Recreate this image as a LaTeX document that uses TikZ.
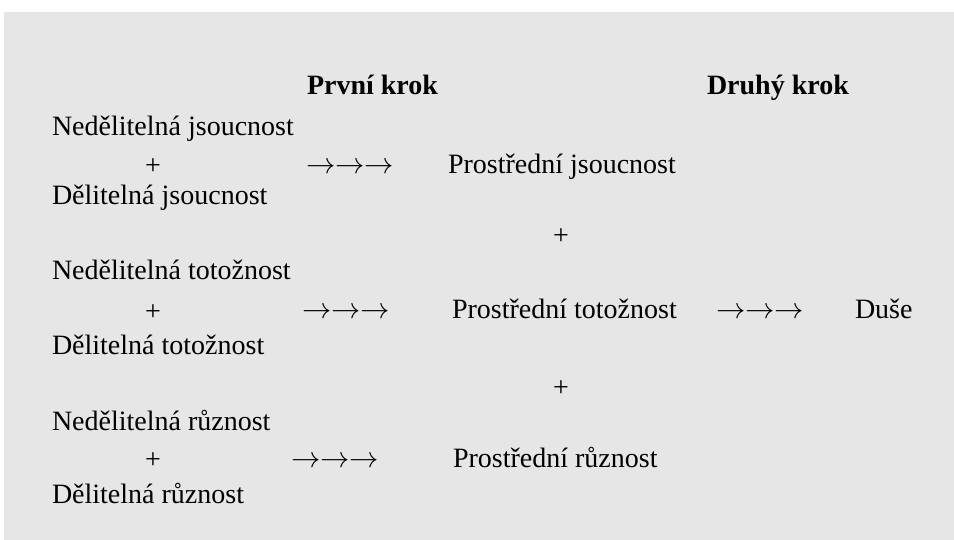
\documentclass[tikz,border=0pt]{standalone}
\usepackage{graphicx}
\usepackage{fontspec}
\setmainfont{Liberation Serif}
\definecolor{bggray}{HTML}{E6E6E6}
\newcommand{\threearrows}{\resizebox{88pt}{!}{$\mathsurround=0pt\rightarrow\rightarrow\rightarrow$}}
\begin{document}
\begin{tikzpicture}[x=1pt,y=1pt,
  txt/.style={inner sep=0pt,outer sep=0pt,anchor=base west,font=\fontsize{28}{34}\selectfont\rmfamily},
  head/.style={txt,font=\fontsize{28}{34}\selectfont\rmfamily\bfseries},
  plus/.style={inner sep=0pt,outer sep=0pt,anchor=base,font=\fontsize{28}{34}\selectfont\rmfamily},
  arr/.style={txt}]
\useasboundingbox (0,0) rectangle (954,-540);
\fill[bggray] (4,-12) rectangle (954,-540);
% headings
\node[head] (h1) at (307,-95) {První krok};
\node[head] (h2) at (707,-95) {Druhý krok};
% group 1
\node[txt] (nj) at (52,-136) {Nedělitelná jsoucnost};
\node[plus] (pj) at (153,-175) {+};
\node[arr] (aj) at (306,-174) {\threearrows};
\node[txt] (sj) at (448,-174) {Prostřední jsoucnost};
\node[txt] (dj) at (52,-205) {Dělitelná jsoucnost};
\node[plus] (m1) at (561,-245) {+};
% group 2
\node[txt] (nt) at (52,-280) {Nedělitelná totožnost};
\node[plus] (pt) at (153,-320) {+};
\node[arr] (at1) at (302,-319) {\threearrows};
\node[txt] (st) at (452,-319) {Prostřední totožnost};
\node[arr] (at2) at (716,-319) {\threearrows};
\node[txt] (du) at (855,-319) {Duše};
\node[txt] (dt) at (52,-355) {Dělitelná totožnost};
\node[plus] (m2) at (561,-396) {+};
% group 3
\node[txt] (nr) at (52,-430) {Nedělitelná různost};
\node[plus] (pr) at (153,-468) {+};
\node[arr] (ar) at (291,-467) {\threearrows};
\node[txt] (sr) at (453,-467) {Prostřední různost};
\node[txt] (dr) at (52,-503) {Dělitelná různost};
\end{tikzpicture}
\end{document}
